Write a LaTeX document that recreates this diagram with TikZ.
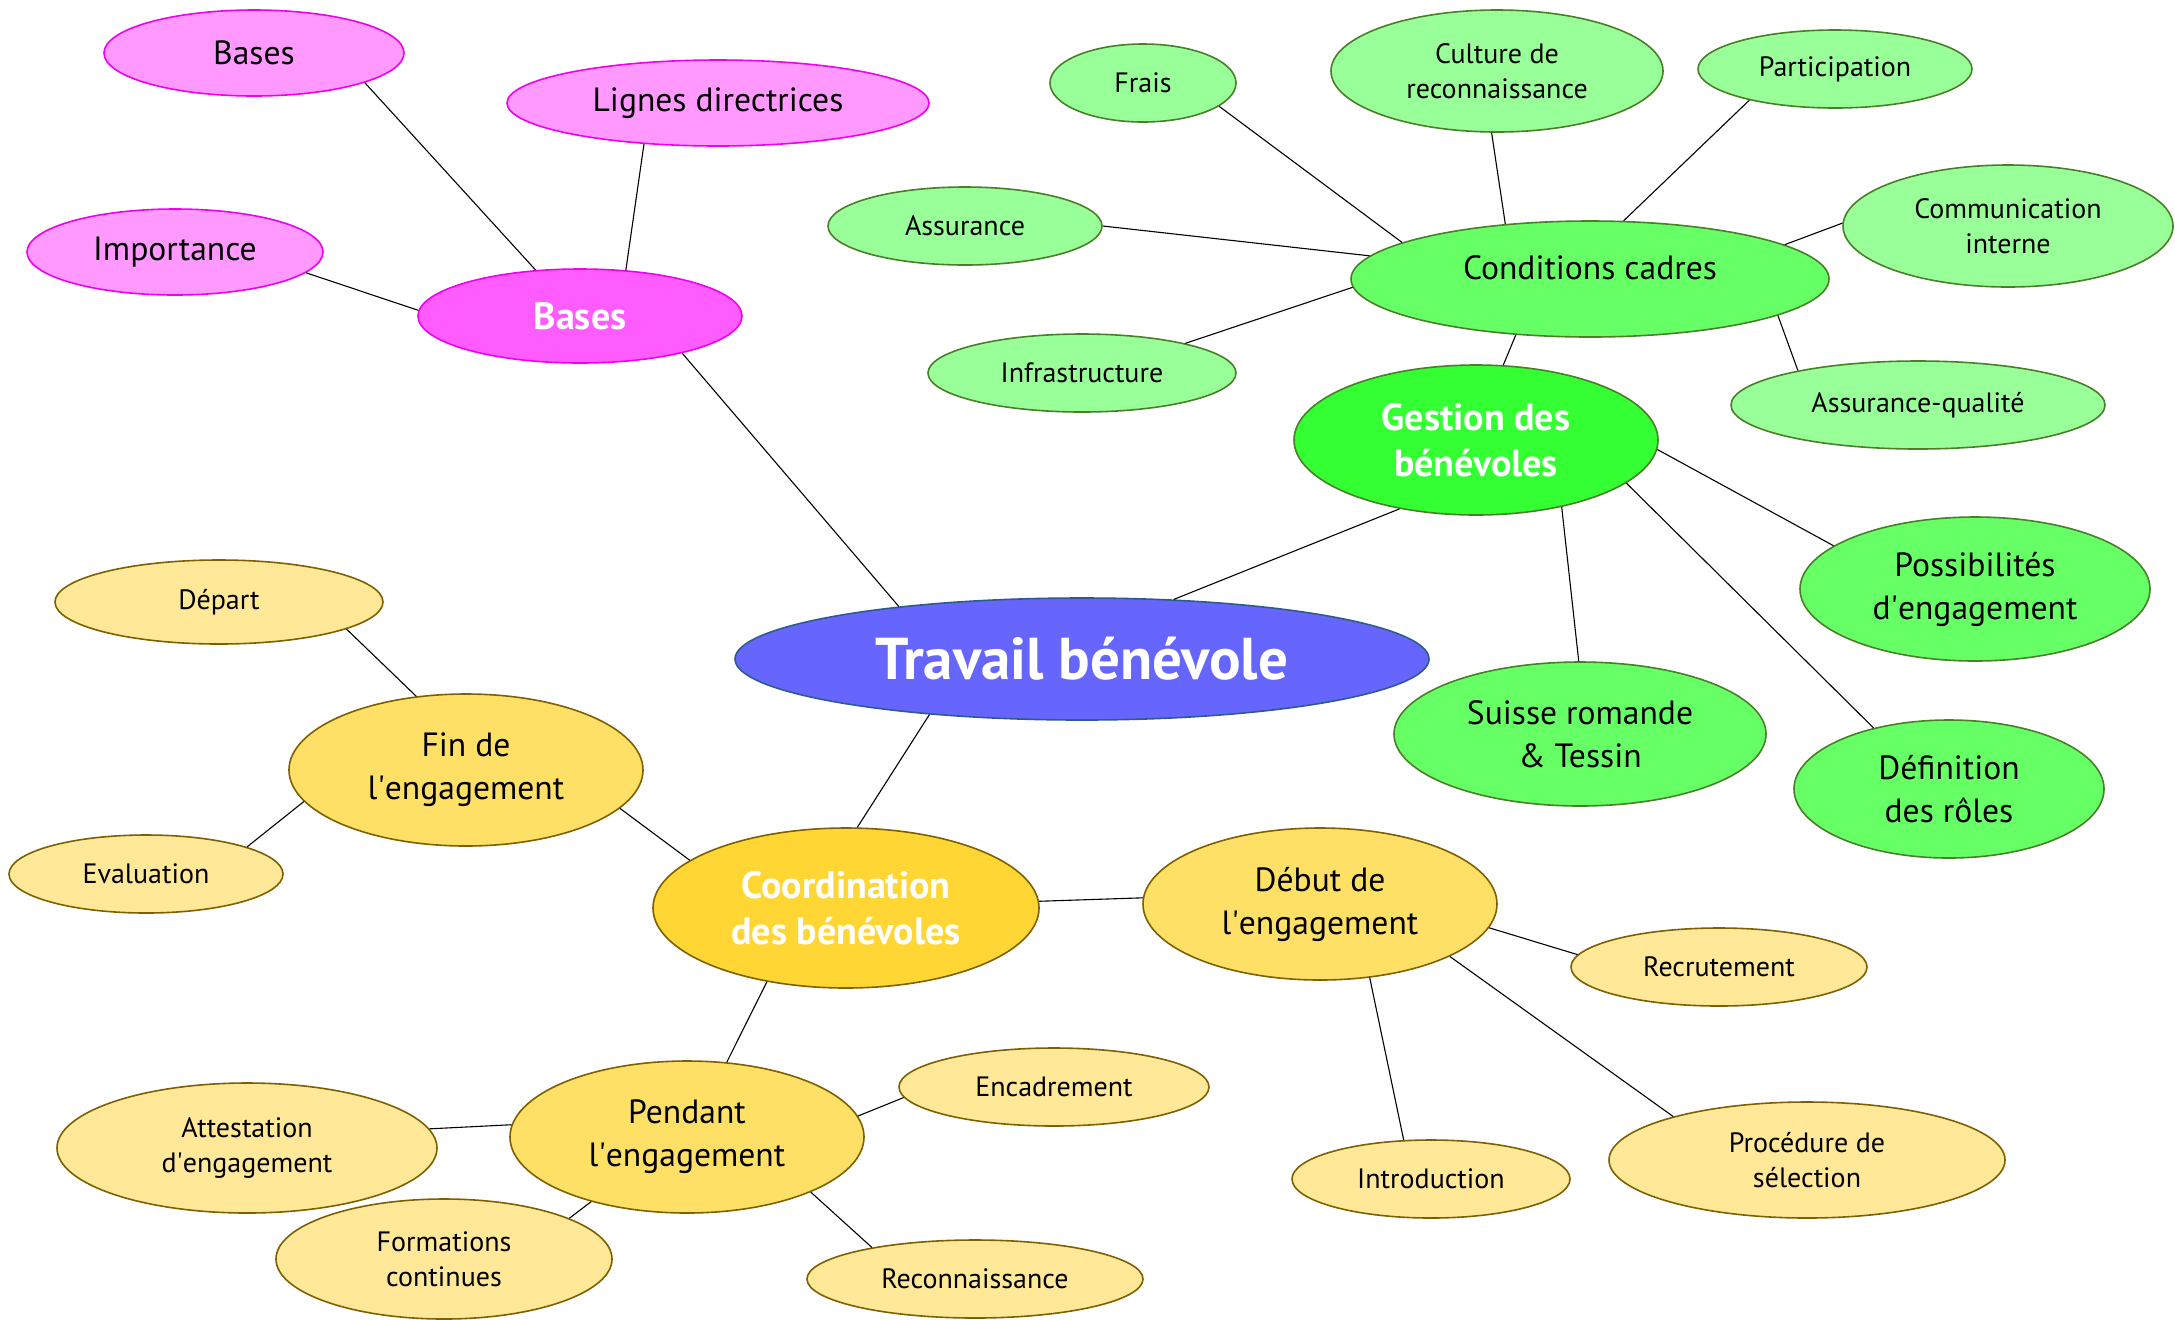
\documentclass[tikz,border=0pt]{standalone}
\usepackage{fontspec}
\setmainfont{PT Sans}
\usetikzlibrary{shapes.geometric}
\newcommand\apos{\textquotesingle}
\definecolor{blueF}{HTML}{6666FF}
\definecolor{blueD}{HTML}{2F5B8C}
\definecolor{pinkA}{HTML}{FF5CFF}
\definecolor{pinkB}{HTML}{FF99FF}
\definecolor{pinkD}{HTML}{F000F0}
\definecolor{greenA}{HTML}{33FF33}
\definecolor{greenB}{HTML}{66FF66}
\definecolor{greenC}{HTML}{99FF99}
\definecolor{greenD}{HTML}{4A7F2A}
\definecolor{yelA}{HTML}{FFD633}
\definecolor{yelB}{HTML}{FFE066}
\definecolor{yelC}{HTML}{FFE999}
\definecolor{yelD}{HTML}{7F6000}
\tikzset{
  ell/.style={ellipse, inner sep=0pt, align=center, line width=0.8pt},
  sz/.style 2 args={minimum width=#1pt, minimum height=#2pt},
  ftop/.style={font=\fontsize{29.5}{34}\selectfont\bfseries, text=white},
  fone/.style={font=\fontsize{19}{23}\selectfont\bfseries, text=white},
  ftwo/.style={font=\fontsize{16.8}{21.5}\selectfont},
  fthree/.style={font=\fontsize{14}{17.5}\selectfont},
  rootnode/.style={ell, ftop, fill=blueF, draw=blueD},
  pinkone/.style={ell, fone, fill=pinkA, draw=pinkD},
  pinktwo/.style={ell, ftwo, fill=pinkB, draw=pinkD},
  greenone/.style={ell, fone, fill=greenA, draw=greenD},
  greentwo/.style={ell, ftwo, fill=greenB, draw=greenD},
  greenthree/.style={ell, fthree, fill=greenC, draw=greenD},
  yelone/.style={ell, fone, fill=yelA, draw=yelD},
  yeltwo/.style={ell, ftwo, fill=yelB, draw=yelD},
  yelthree/.style={ell, fthree, fill=yelC, draw=yelD},
  conn/.style={draw=black, line width=0.55pt}
}
\begin{document}
\begin{tikzpicture}[x=0.5pt, y=-0.5pt]
\useasboundingbox[fill=white] (0,0) rectangle (2175,1319);
% root
\node[rootnode, sz={347}{61}] (trav) at (1082,659) {Travail bénévole};
% pink
\node[pinkone, sz={162}{47}] (bases) at (580,316) {Bases};
\node[pinktwo, sz={150}{43}] (basesS) at (254,53) {Bases};
\node[pinktwo, sz={211}{43}] (lignes) at (718,103) {Lignes directrices};
\node[pinktwo, sz={148}{43}] (import) at (175,252) {Importance};
% green
\node[greenone, sz={182}{75}] (gest) at (1476,440) {Gestion des\\bénévoles};
\node[greentwo, sz={239}{58}] (cond) at (1590,279) {\raisebox{11pt}{Conditions cadres}};
\node[greenthree, sz={93}{39}] (frais) at (1143,83) {Frais};
\node[greenthree, sz={166}{61}] (cult) at (1497,71) {Culture de\\reconnaissance};
\node[greenthree, sz={137}{39}] (part) at (1835,69) {Participation};
\node[greenthree, sz={137}{39}] (assur) at (965,226) {Assurance};
\node[greenthree, sz={165}{61}] (comm) at (2008,226) {Communication\\interne};
\node[greenthree, sz={154}{39}] (infra) at (1082,373) {Infrastructure};
\node[greenthree, sz={187}{44}] (aq) at (1918,405) {Assurance-qualité};
\node[greentwo, sz={175}{72}] (poss) at (1975,589) {Possibilités\\d\apos engagement};
\node[greentwo, sz={186}{72}] (suisse) at (1580,734) {Suisse romande\\\& Tessin};
\node[greentwo, sz={155}{69}] (defi) at (1949,789) {Définition\\des rôles};
% yellow
\node[yelone, sz={193}{80}] (coord) at (846,908) {Coordination\\des bénévoles};
\node[yeltwo, sz={177}{76}] (fin) at (466,770) {Fin de\\l\apos engagement};
\node[yelthree, sz={164}{42}] (depart) at (219,602) {Départ};
\node[yelthree, sz={137}{39}] (eval) at (146,874) {Evaluation};
\node[yeltwo, sz={177}{76}] (debut) at (1320,904) {Début de\\l\apos engagement};
\node[yelthree, sz={148}{39}] (recr) at (1719,967) {Recrutement};
\node[yelthree, sz={139}{39}] (intro) at (1431,1179) {Introduction};
\node[yelthree, sz={198}{58}] (proc) at (1807,1160) {Procédure de\\sélection};
\node[yeltwo, sz={177}{76}] (pend) at (687,1137) {Pendant\\l\apos engagement};
\node[yelthree, sz={155}{39}] (encad) at (1054,1087) {Encadrement};
\node[yelthree, sz={190}{65}] (attest) at (247,1148) {Attestation\\d\apos engagement};
\node[yelthree, sz={168}{60}] (form) at (444,1259) {Formations\\continues};
\node[yelthree, sz={168}{39}] (reco) at (975,1279) {Reconnaissance};
% connectors
\draw[conn] (bases.134) -- (basesS.-15.6);
\draw[conn] (bases.45) -- (lignes.209);
\draw[conn] (bases.178) -- (import.-9.7);
\draw[conn] (bases.-20) -- (trav.164);
\draw[conn] (trav.33) -- (gest.222);
\draw[conn] (trav.200) -- (coord.82);
\draw[conn] (gest.70) -- (cond.217);
\draw[conn] (gest.-3.5) -- (poss.163.6);
\draw[conn] (gest.-38.8) -- (suisse.91);
\draw[conn] (gest.-16.3) -- (defi.141.5);
\draw[conn] (cond.169) -- (frais.-17);
\draw[conn] (cond.147) -- (cult.-95);
\draw[conn] (cond.60) -- (part.200);
\draw[conn] (cond.174.7) -- (assur.0.6);
\draw[conn] (cond.10.9) -- (comm.179.5);
\draw[conn] (cond.182) -- (infra.16.9);
\draw[conn] (cond.-11.3) -- (aq.164);
\draw[conn] (coord.163.7) -- (fin.-14);
\draw[conn] (fin.124.7) -- (depart.-12);
\draw[conn] (fin.191.5) -- (eval.15.3);
\draw[conn] (coord.2.5) -- (debut.178.6);
\draw[conn] (debut.-8) -- (recr.175.6);
\draw[conn] (debut.-56.8) -- (intro.125.5);
\draw[conn] (debut.-22) -- (proc.162.4);
\draw[conn] (coord.223.5) -- (pend.62.6);
\draw[conn] (pend.7.9) -- (encad.184);
\draw[conn] (pend.176.4) -- (attest.6.7);
\draw[conn] (pend.214.5) -- (form.18.6);
\draw[conn] (pend.-24) -- (reco.163);
\end{tikzpicture}
\end{document}
